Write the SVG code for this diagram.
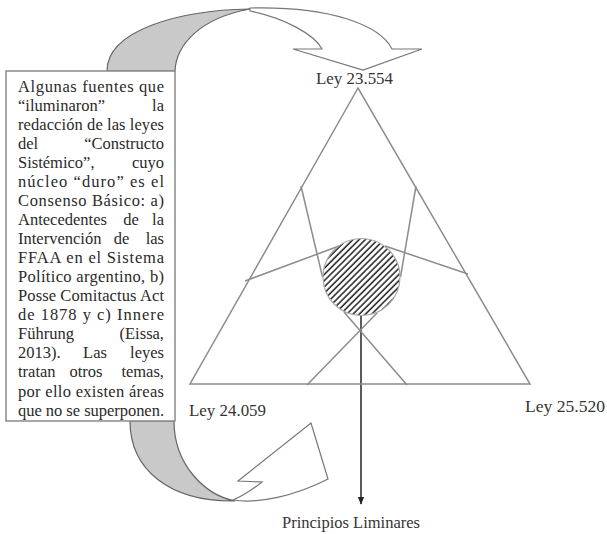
<svg xmlns="http://www.w3.org/2000/svg" width="607" height="534" viewBox="0 0 607 534">
<style>
.t{font-family:"Liberation Serif","Times New Roman",serif;font-size:16.5px;fill:#2a2a2a}
.e{text-anchor:end}
.m{text-anchor:middle}
.lbl{font-family:"Liberation Serif","Times New Roman",serif;font-size:16px;fill:#333}
.edge{stroke:#8c8c8c;stroke-width:1.5;fill:none}
.band{fill:#c9c9c9;stroke:#666;stroke-width:1.2}
.wband{fill:#fff;stroke:#777;stroke-width:1.2;stroke-linejoin:miter}
</style>
<defs>
<pattern id="hatch" patternUnits="userSpaceOnUse" width="4.4" height="4.4" patternTransform="rotate(45)">
<rect width="4.4" height="4.4" fill="#fff"/>
<line x1="1" y1="0" x2="1" y2="4.4" stroke="#222" stroke-width="1.5"/>
</pattern>
<marker id="ah" viewBox="0 0 10 10" refX="9" refY="5" markerWidth="8" markerHeight="8" markerUnits="userSpaceOnUse" orient="auto">
<path d="M0,1 L10,5 L0,9 Z" fill="#222"/>
</marker>
</defs>
<rect width="607" height="534" fill="#fff"/>

<g id="connectors">
<path class="band" d="M107,71 C107,30 180,10 250,9 C200,18 176,45 175,71 Z"/>
<path class="wband" d="M250,8 C330,6 380,25 392,49 L422,49 L363,70 L293,49 L322,49 C315,35 285,18 250,11 Z"/>
<path class="band" d="M130,421 C130,470 170,502 235,501 C205,495 174,465 174,421 Z"/>
<path class="wband" d="M233,500 C258,504 295,496 328,479 L311,423 L238,481 L262,482 C252,490 243,496 233,500 Z"/>
<line x1="361" y1="315" x2="361" y2="504" stroke="#333" stroke-width="1.6" marker-end="url(#ah)"/>
</g>

<g id="triangle">
<path class="edge" d="M358,88 L190,384 L530,384 Z"/>
<line class="edge" x1="301" y1="186" x2="322.5" y2="277"/>
<line class="edge" x1="416" y1="186" x2="400.5" y2="277"/>
<line class="edge" x1="245" y1="281" x2="339" y2="246"/>
<line class="edge" x1="468" y1="274" x2="385" y2="246"/>
<line class="edge" x1="307" y1="385" x2="377" y2="313"/>
<line class="edge" x1="407" y1="385" x2="344" y2="312"/>
</g>

<g id="core">
<circle cx="361.5" cy="277" r="38.5" fill="url(#hatch)" stroke="#aaa" stroke-width="1.2"/>
</g>

<g id="ley-23554"><text class="lbl" x="316" y="84" textLength="77" lengthAdjust="spacingAndGlyphs">Ley 23.554</text></g>
<g id="ley-24059"><text class="lbl" x="189" y="416" textLength="77" lengthAdjust="spacingAndGlyphs">Ley 24.059</text></g>
<g id="ley-25520"><text class="lbl" x="525" y="412" textLength="80" lengthAdjust="spacingAndGlyphs">Ley 25.520</text></g>
<g id="principios"><text class="lbl" x="282" y="528" textLength="138" lengthAdjust="spacingAndGlyphs">Principios Liminares</text></g>

<g id="textbox">
<rect x="6" y="71" width="169" height="350" fill="#fff" stroke="#8a8a8a" stroke-width="1.5"/>
<text class="t" x="18" y="91.5" textLength="146" lengthAdjust="spacing">Algunas fuentes que</text>
<text class="t" x="18" y="110.6">“iluminaron”</text><text class="t e" x="164" y="110.6">la</text>
<text class="t" x="18" y="129.6" textLength="146" lengthAdjust="spacing">redacción de las leyes</text>
<text class="t" x="18" y="148.7">del</text><text class="t e" x="164" y="148.7">“Constructo</text>
<text class="t" x="18" y="167.7">Sistémico”,</text><text class="t e" x="164" y="167.7">cuyo</text>
<text class="t" x="18" y="186.8" textLength="146" lengthAdjust="spacing">núcleo “duro” es el</text>
<text class="t" x="18" y="205.9" textLength="146" lengthAdjust="spacing">Consenso Básico: a)</text>
<text class="t" x="18" y="224.9">Antecedentes</text><text class="t m" x="131" y="224.9">de</text><text class="t e" x="164" y="224.9">la</text>
<text class="t" x="18" y="244">Intervención</text><text class="t m" x="121.5" y="244">de</text><text class="t e" x="164" y="244">las</text>
<text class="t" x="18" y="263" textLength="146" lengthAdjust="spacing">FFAA en el Sistema</text>
<text class="t" x="18" y="282.1" textLength="146" lengthAdjust="spacing">Político argentino, b)</text>
<text class="t" x="18" y="301.2" textLength="146" lengthAdjust="spacing">Posse Comitactus Act</text>
<text class="t" x="18" y="320.2" textLength="146" lengthAdjust="spacing">de 1878 y c) Innere</text>
<text class="t" x="18" y="339.3">Führung</text><text class="t e" x="164" y="339.3">(Eissa,</text>
<text class="t" x="18" y="358.3">2013).</text><text class="t m" x="95" y="358.3">Las</text><text class="t e" x="164" y="358.3">leyes</text>
<text class="t" x="18" y="377.4">tratan</text><text class="t m" x="86" y="377.4">otros</text><text class="t e" x="164" y="377.4">temas,</text>
<text class="t" x="18" y="396.5" textLength="146" lengthAdjust="spacing">por ello existen áreas</text>
<text class="t" x="18" y="415.5" textLength="146" lengthAdjust="spacing">que no se superponen.</text>
</g>
</svg>
